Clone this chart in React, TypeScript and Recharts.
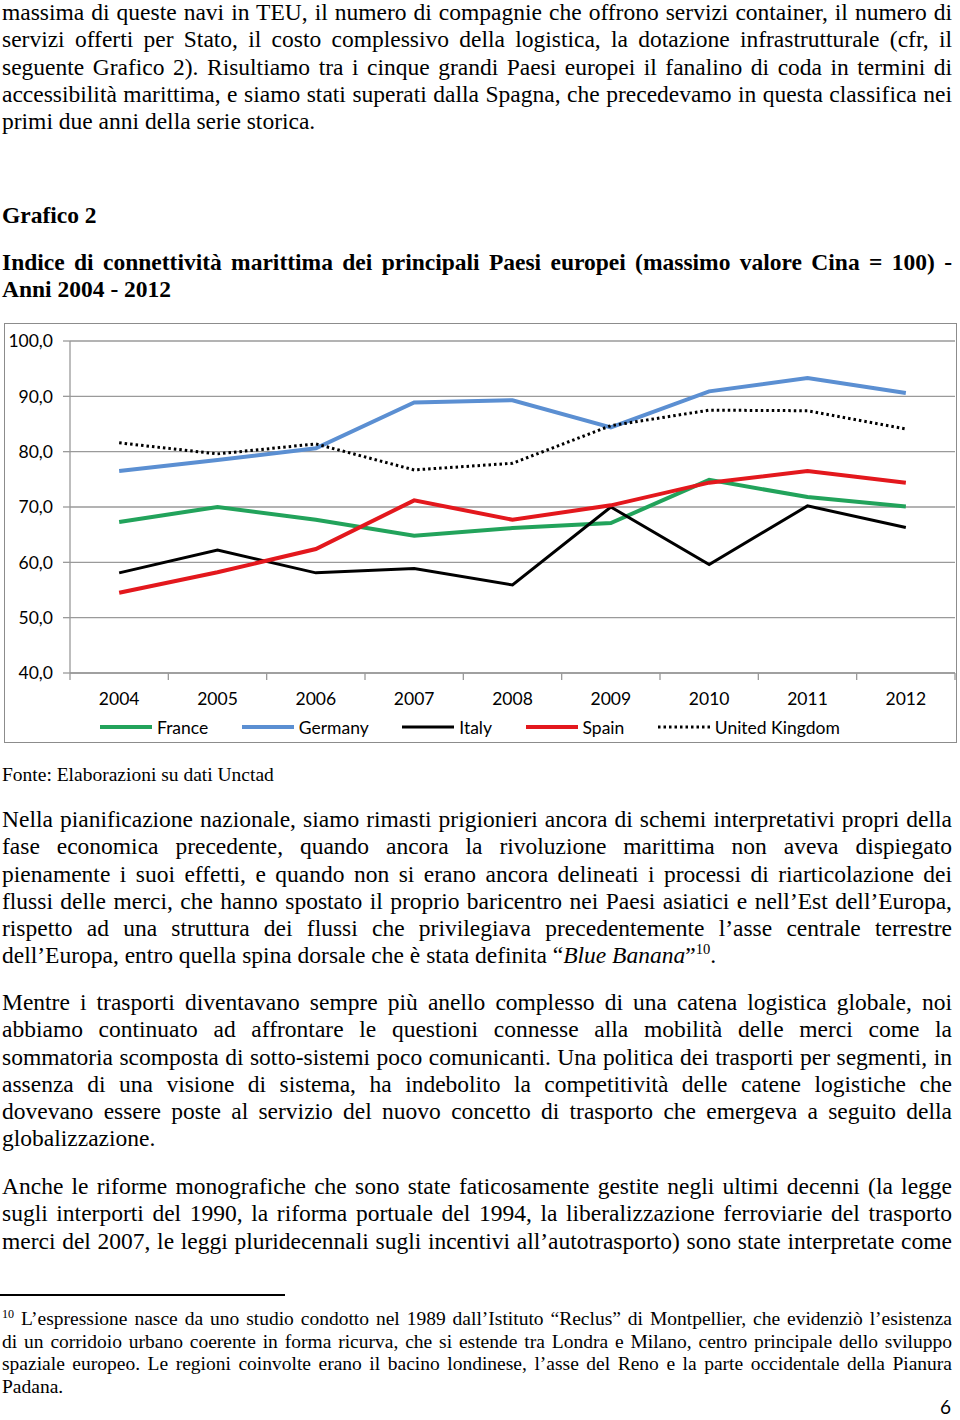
import React from "react";
import { LineChart, Line, XAxis, YAxis, CartesianGrid } from "recharts";

// Grafico 2 - connettività marittima (Cina max = 100)
const years = [2004, 2005, 2006, 2007, 2008, 2009, 2010, 2011, 2012];
const france = [67.3, 70.0, 67.7, 64.8, 66.2, 67.1, 74.9, 71.8, 70.1];
const germany = [76.5, 78.5, 80.6, 88.9, 89.3, 84.4, 90.9, 93.3, 90.6];
const italy = [58.1, 62.2, 58.1, 58.9, 55.9, 70.0, 59.6, 70.2, 66.3];
const spain = [54.5, 58.2, 62.4, 71.2, 67.7, 70.3, 74.4, 76.5, 74.4];
const uk = [81.6, 79.6, 81.4, 76.7, 77.9, 84.7, 87.5, 87.4, 84.1];
const yTicks = [40, 50, 60, 70, 80, 90, 100];

const series = [
  { name: "France", values: france, color: "#22a35b", width: 4, dash: undefined },
  { name: "Germany", values: germany, color: "#5b8fd2", width: 4, dash: undefined },
  { name: "Italy", values: italy, color: "#000000", width: 3, dash: undefined },
  { name: "Spain", values: spain, color: "#e3181d", width: 4, dash: undefined },
  { name: "United Kingdom", values: uk, color: "#000000", width: 3, dash: "2.5 3" },
];

const data = years.map((year, i) => {
  const row: Record<string, number> = { year };
  series.forEach(s => { row[s.name] = s.values[i]; });
  return row;
});

// ticks at category boundaries (tick marks) and centres (labels)
const xTicks = [...years.flatMap(y => [y - 0.5, y]), years[years.length - 1] + 0.5];

const AXIS = "#9a9a9a";
const SANS = "Lato, 'Open Sans', sans-serif";

const XTick = (props: any) => {
  const { x, y, payload } = props;
  if (Number.isInteger(payload.value)) {
    return (
      <text x={x} y={y + 25} textAnchor="middle" dominantBaseline="central" fontSize={17.5} fontFamily={SANS} fill="#000">
        {payload.value}
      </text>
    );
  }
  return <line x1={x} x2={x} y1={y} y2={y + 7} stroke={AXIS} strokeWidth={1.3} />;
};

const Para = ({ top, lines, size, lh, justifyLast = false, bold = false }: any) => (
  <div style={{ position: "absolute", top, left: 2, width: 950, fontSize: size, lineHeight: lh + "px", fontWeight: bold ? "bold" : "normal" }}>
    {lines.map((l: any, i: number) => (
      <div key={i} style={{ textAlign: "justify", textAlignLast: i < lines.length - 1 || justifyLast ? "justify" : "left" }}>{l}</div>
    ))}
  </div>
);

const sup: React.CSSProperties = { fontSize: "0.62em", verticalAlign: "super", lineHeight: 0 };

export default function App() {
  return (
    <div style={{ position: "relative", width: 960, height: 1420, fontFamily: "'Liberation Serif', 'Times New Roman', serif", color: "#000", overflow: "hidden" }}>
      <style>{`body{margin:0}`}</style>

      <Para top={-1} size={23.5} lh={27.3} lines={[
        "massima di queste navi in TEU, il numero di compagnie che offrono servizi container, il numero di",
        "servizi offerti per Stato, il costo complessivo della logistica, la dotazione infrastrutturale (cfr, il",
        "seguente Grafico 2). Risultiamo tra i cinque grandi Paesi europei il fanalino di coda in termini di",
        "accessibilità marittima, e siamo stati superati dalla Spagna, che precedevamo in questa classifica nei",
        "primi due anni della serie storica.",
      ]} />

      <Para top={202} size={23.5} lh={27.3} bold lines={["Grafico 2"]} />
      <Para top={249} size={23.5} lh={27.3} bold lines={[
        "Indice di connettività marittima dei principali Paesi europei (massimo valore Cina = 100) -",
        "Anni 2004 - 2012",
      ]} />

      {/* chart box */}
      <div style={{ position: "absolute", left: 4, top: 323, width: 953, height: 420, border: "1px solid #8c8c8c", boxSizing: "border-box", background: "#fff" }}>
        <LineChart width={951} height={418} data={data} margin={{ top: 17, right: 1, left: 0, bottom: 29 }}>
          <CartesianGrid vertical={false} stroke={AXIS} strokeWidth={1.3} />
          <XAxis
            dataKey="year" type="number" domain={[2003.5, 2012.5]} ticks={xTicks} interval={0}
            tick={<XTick />} tickLine={false} tickSize={0} tickMargin={0} height={40}
            axisLine={{ stroke: AXIS, strokeWidth: 1.3 }}
          />
          <YAxis
            domain={[40, 100]} ticks={yTicks} interval={0} width={65}
            tickFormatter={(v: number) => v.toFixed(1).replace(".", ",")}
            tick={{ fill: "#000", fontSize: 17.5, fontFamily: SANS }}
            tickSize={7} tickMargin={10}
            tickLine={{ stroke: AXIS, strokeWidth: 1.3 }} axisLine={{ stroke: AXIS, strokeWidth: 1.3 }}
          />
          {series.map(s => (
            <Line key={s.name} type="linear" dataKey={s.name} stroke={s.color} strokeWidth={s.width}
              strokeDasharray={s.dash} dot={false} activeDot={false} isAnimationActive={false} />
          ))}
        </LineChart>
        {/* legend */}
        <div style={{ position: "absolute", left: 95, top: 391, height: 24, display: "flex", alignItems: "center", gap: 33.5, fontFamily: SANS, fontSize: 17.5 }}>
          {series.map(s => (
            <div key={s.name} style={{ display: "flex", alignItems: "center" }}>
              <svg width={52} height={6} style={{ marginRight: 5 }}>
                <line x1={0} x2={52} y1={3} y2={3} stroke={s.color} strokeWidth={s.width} strokeDasharray={s.dash} />
              </svg>
              <span>{s.name}</span>
            </div>
          ))}
        </div>
      </div>

      <div style={{ position: "absolute", top: 764, left: 2, fontSize: 19.5, lineHeight: "22.7px" }}>Fonte: Elaborazioni su dati Unctad</div>

      <Para top={806} size={23.5} lh={27.3} lines={[
        "Nella pianificazione nazionale, siamo rimasti prigionieri ancora di schemi interpretativi propri della",
        "fase economica precedente, quando ancora la rivoluzione marittima non aveva dispiegato",
        "pienamente i suoi effetti, e quando non si erano ancora delineati i processi di riarticolazione dei",
        "flussi delle merci, che hanno spostato il proprio baricentro nei Paesi asiatici e nell’Est dell’Europa,",
        "rispetto ad una struttura dei flussi che privilegiava precedentemente l’asse centrale terrestre",
        <>dell’Europa, entro quella spina dorsale che è stata definita “<i>Blue Banana</i>”<span style={sup}>10</span>.</>,
      ]} />

      <Para top={989} size={23.5} lh={27.3} lines={[
        "Mentre i trasporti diventavano sempre più anello complesso di una catena logistica globale, noi",
        "abbiamo continuato ad affrontare le questioni connesse alla mobilità delle merci come la",
        "sommatoria scomposta di sotto-sistemi poco comunicanti. Una politica dei trasporti per segmenti, in",
        "assenza di una visione di sistema, ha indebolito la competitività delle catene logistiche che",
        "dovevano essere poste al servizio del nuovo concetto di trasporto che emergeva a seguito della",
        "globalizzazione.",
      ]} />

      <Para top={1173} size={23.5} lh={27.3} justifyLast lines={[
        "Anche le riforme monografiche che sono state faticosamente gestite negli ultimi decenni (la legge",
        "sugli interporti del 1990, la riforma portuale del 1994, la liberalizzazione ferroviarie del trasporto",
        "merci del 2007, le leggi pluridecennali sugli incentivi all’autotrasporto) sono state interpretate come",
      ]} />

      <div style={{ position: "absolute", top: 1294, left: 0, width: 285, height: 1.5, background: "#000" }} />

      <Para top={1308} size={19.5} lh={22.7} lines={[
        <><span style={sup}>10</span> L’espressione nasce da uno studio condotto nel 1989 dall’Istituto “Reclus” di Montpellier, che evidenziò l’esistenza</>,
        "di un corridoio urbano coerente in forma ricurva, che si estende tra Londra e Milano, centro principale dello sviluppo",
        "spaziale europeo. Le regioni coinvolte erano il bacino londinese, l’asse del Reno e la parte occidentale della Pianura",
        "Padana.",
      ]} />

      <div style={{ position: "absolute", top: 1398, right: 9, fontFamily: SANS, fontSize: 19, lineHeight: "18px" }}>6</div>
    </div>
  );
}
